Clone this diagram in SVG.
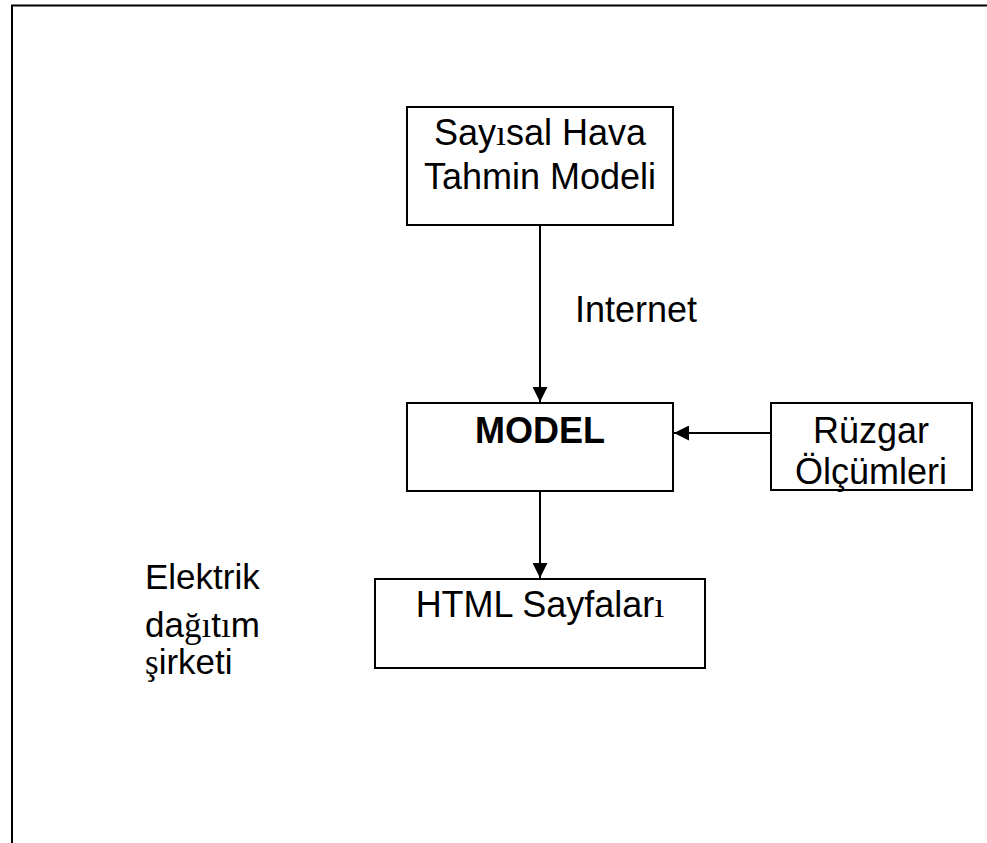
<svg xmlns="http://www.w3.org/2000/svg" width="987" height="843" viewBox="0 0 987 843">
<style>
.box{fill:#fff;stroke:#000;stroke-width:2}
.t{font-family:"Liberation Sans",Arial,sans-serif;font-size:36px;fill:#000}
.s{font-family:"Liberation Serif","Times New Roman",serif}
.b{font-weight:bold}
.c{stroke:#000;stroke-width:2;fill:none}
</style>
<defs>
<marker id="ah" markerWidth="15" markerHeight="15" refX="15" refY="7.5" orient="auto" markerUnits="userSpaceOnUse">
<path d="M0,0 L15,7.5 L0,15 Z" fill="#000"/>
</marker>
</defs>
<rect x="12" y="5.5" width="1000" height="900" fill="none" stroke="#000" stroke-width="2"/>
<g id="connectors">
<line class="c" x1="540" y1="225" x2="540" y2="402" marker-end="url(#ah)"/>
<line class="c" x1="771" y1="433" x2="674" y2="433" marker-end="url(#ah)"/>
<line class="c" x1="540" y1="491" x2="540" y2="578" marker-end="url(#ah)"/>
<text class="t" x="575" y="322">Internet</text>
</g>
<g id="n-sayisal">
<rect class="box" x="407" y="107" width="266" height="118"/>
<text class="t" x="540" y="145" text-anchor="middle">Say<tspan class="s">ı</tspan>sal Hava</text>
<text class="t" x="540" y="189" text-anchor="middle">Tahmin Modeli</text>
</g>
<g id="n-model">
<rect class="box" x="407" y="403" width="266" height="88"/>
<text class="t b" x="540" y="443" text-anchor="middle">MODEL</text>
</g>
<g id="n-ruzgar">
<rect class="box" x="771" y="403" width="201" height="87"/>
<text class="t" x="871" y="443" text-anchor="middle">Rüzgar</text>
<text class="t" x="871" y="484" text-anchor="middle">Ölçümleri</text>
</g>
<g id="n-html">
<rect class="box" x="375" y="579" width="330" height="89"/>
<text class="t" x="540" y="617" text-anchor="middle">HTML Sayfalar<tspan class="s">ı</tspan></text>
</g>
<g id="n-elektrik">
<text class="t" x="145" y="589" style="font-size:35px">Elektrik</text>
<text class="t" x="145" y="637" style="font-size:35px">da<tspan class="s">ğı</tspan>t<tspan class="s">ı</tspan>m</text>
<text class="t" x="145" y="674" style="font-size:35px"><tspan class="s">ş</tspan>irketi</text>
</g>
</svg>
